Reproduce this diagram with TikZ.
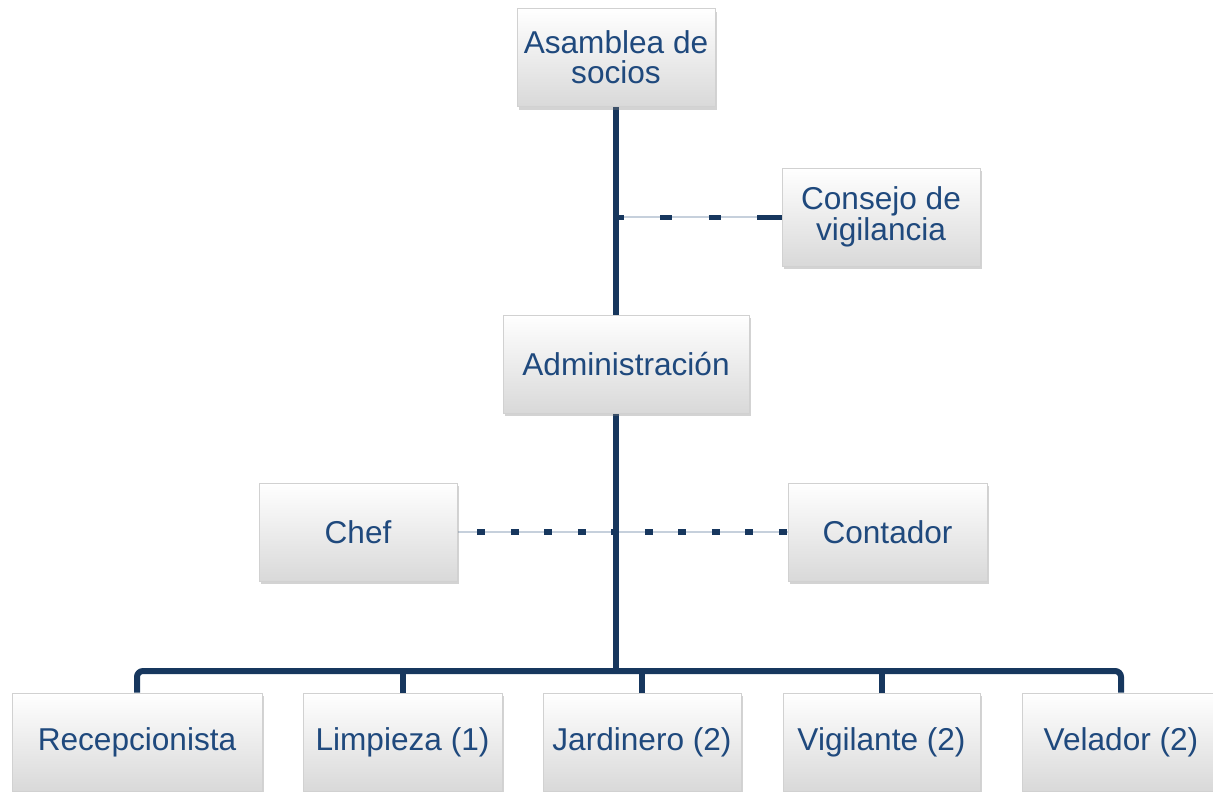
\documentclass[tikz,border=0pt]{standalone}
\usepackage{fontspec}
\setmainfont{Liberation Sans}
\usetikzlibrary{shadows,backgrounds}
\definecolor{txtblue}{HTML}{1F497D}
\definecolor{linenavy}{HTML}{17375E}
\definecolor{lightline}{HTML}{C6D0DC}
\begin{document}
\begin{tikzpicture}[x=0.5pt,y=-0.5pt,
  box/.style={draw=black!18, line width=0.4pt, top color=white, bottom color=black!15,
    drop shadow={shadow xshift=1.2pt, shadow yshift=-1.6pt, opacity=0.35},
    text=txtblue, font=\fontsize{15.8}{15.2}\selectfont, align=center,
    inner sep=0pt, minimum height=49pt},
  link/.style={draw=linenavy, line width=3pt},
  thinlink/.style={draw=lightline, line width=0.6pt},
  ]
\useasboundingbox (0,0) rectangle (1213,791);
\node[box, minimum width=99pt]   (asam) at (616,57.5) {Asamblea de\\socios};
\node[box, minimum width=99pt]   (cons) at (881,217)  {Consejo de\\vigilancia};
\node[box, minimum width=123pt]  (adm)  at (626,364)  {Administración};
\node[box, minimum width=99pt]   (chef) at (358,532)  {Chef};
\node[box, minimum width=99.5pt] (cont) at (887.5,532) {Contador};
\node[box, minimum width=125pt]  (rec)  at (137,742)  {Recepcionista};
\node[box, minimum width=99.5pt] (lim)  at (402.5,742) {Limpieza (1)};
\node[box, minimum width=99pt]   (jar)  at (642,742)  {Jardinero (2)};
\node[box, minimum width=98.5pt] (vig)  at (881.5,742) {Vigilante (2)};
\node[box, minimum width=99pt]   (vel)  at (1121,742) {Velador (2)};
\coordinate (bus) at (616,671);
\begin{scope}[on background layer]
  % main trunk
  \draw[link] (asam.south) -- (asam.south |- bus);
  % bus and drops
  \draw[link, rounded corners=3pt] (rec.north) -- (rec.north |- bus) -- (vel.north |- bus) -- (vel.north);
  \draw[link] (lim.north) -- (lim.north |- bus);
  \draw[link] (jar.north) -- (jar.north |- bus);
  \draw[link] (vig.north) -- (vig.north |- bus);
  % consejo dashed
  \draw[thinlink] (cons.west -| bus) -- (cons.west);
  \draw[link, line width=2.5pt, dash pattern=on 6pt off 18.25pt, dash phase=2.25pt] (cons.west -| bus) -- (cons.west);
  \draw[link, line width=2.5pt] (cons.west) -- ++(-25,0);
  % chef / contador dotted
  \draw[thinlink] (chef.east) -- (cont.west);
  \draw[link, line width=3.2pt, dash pattern=on 4pt off 12.75pt, dash phase=6.75pt] (chef.east) -- (cont.west);
\end{scope}
\end{tikzpicture}
\end{document}
